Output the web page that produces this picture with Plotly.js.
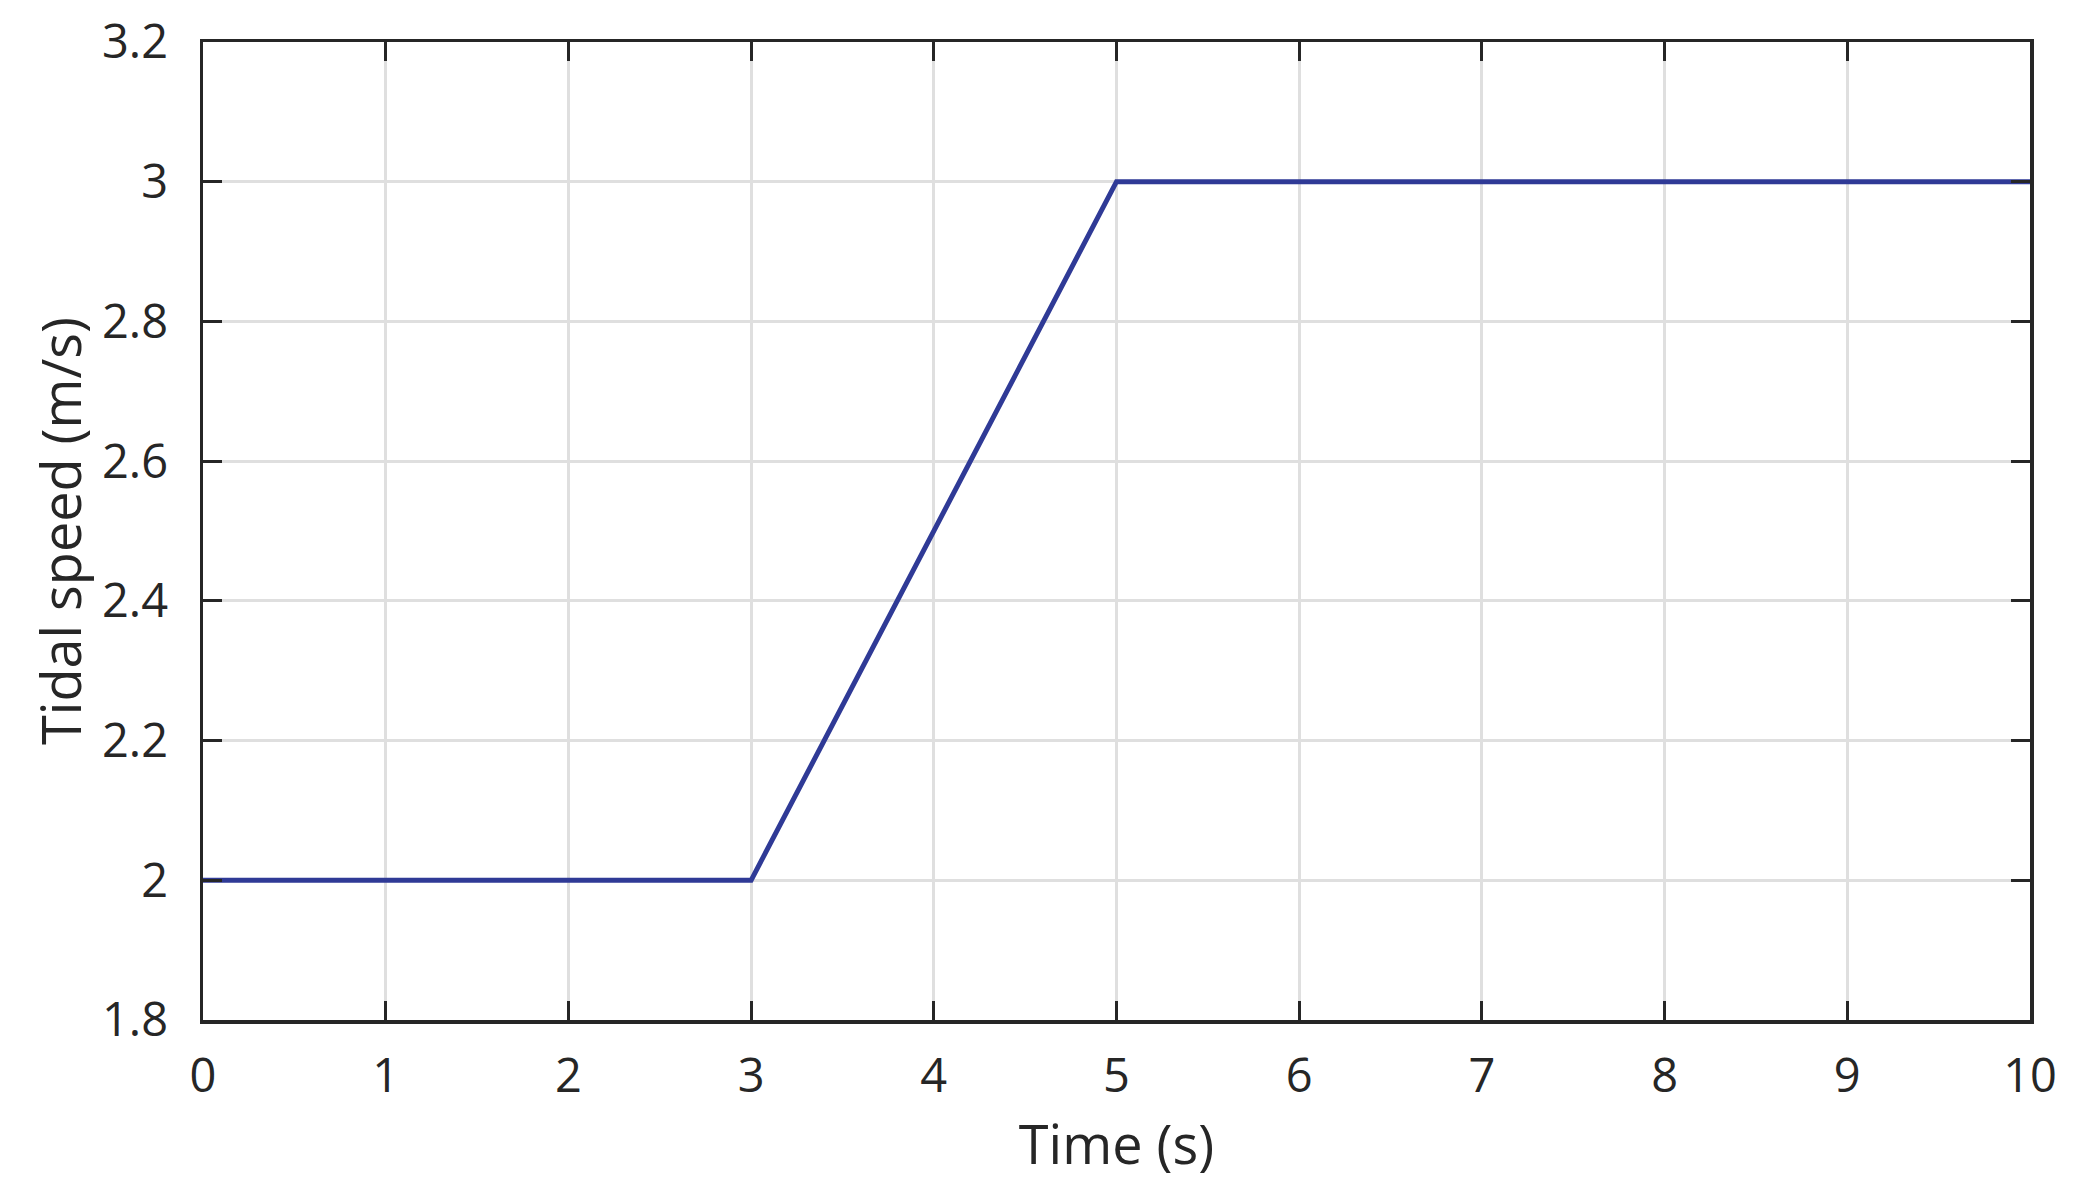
<!DOCTYPE html>
<html>
<head>
<meta charset="utf-8">
<script src="https://cdn.plot.ly/plotly-3.0.1.min.js"></script>
<style>html,body{margin:0;padding:0;background:#fff;}#chart{width:2088px;height:1190px;}</style>
</head>
<body>
<div id="chart"></div>
<script>
const timeS = [0, 3, 5, 10];
const tidalSpeed = [2, 2, 3, 3];
const xTicks = [0, 1, 2, 3, 4, 5, 6, 7, 8, 9, 10];
const yTicks = [1.8, 2, 2.2, 2.4, 2.6, 2.8, 3, 3.2];

const fontFam = '"Open Sans", "Noto Sans", sans-serif';
const axisCommon = {
  showline: true, linecolor: '#262626', linewidth: 3.5, mirror: 'ticks',
  ticks: 'inside', ticklen: 19, tickwidth: 3, tickcolor: '#262626',
  showgrid: true, gridcolor: '#dfdfdf', gridwidth: 3,
  zeroline: false,
  tickfont: {family: fontFam, size: 47, color: '#262626'}
};

const layout = {
  width: 2088, height: 1190,
  margin: {l: 203, r: 58, t: 42, b: 170},
  paper_bgcolor: '#fff', plot_bgcolor: '#fff',
  showlegend: false,
  xaxis: Object.assign({}, axisCommon, {
    range: [0, 10], tickmode: 'array', tickvals: xTicks,
    ticktext: xTicks.map(String), ticklabelstandoff: 12,
    title: {text: 'Time (s)', font: {family: fontFam, size: 54, color: '#262626'}, standoff: 10}
  }),
  yaxis: Object.assign({}, axisCommon, {
    range: [1.8, 3.2], tickmode: 'array', tickvals: yTicks,
    ticktext: yTicks.map(v => String(v)), ticklabelstandoff: 22,
    title: {text: 'Tidal speed (m/s)', font: {family: fontFam, size: 54, color: '#262626'}, standoff: 4}
  })
};

Plotly.newPlot('chart', [{
  x: timeS, y: tidalSpeed, type: 'scatter', mode: 'lines',
  line: {color: '#2f3a96', width: 5}
}], layout, {displayModeBar: false, staticPlot: true});
</script>
</body>
</html>
